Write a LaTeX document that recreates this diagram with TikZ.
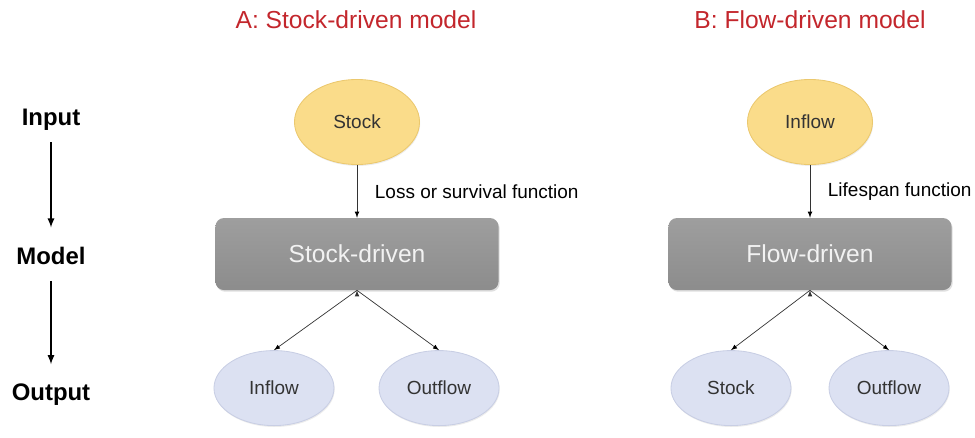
\documentclass[tikz,border=0pt]{standalone}
\usepackage{fontspec}
\setmainfont{Liberation Sans}
\usepackage{tikz}
\usetikzlibrary{positioning,arrows,shadows,shapes.geometric}

\definecolor{titlered}{HTML}{C3262C}
\definecolor{stockfill}{HTML}{FADC8A}
\definecolor{stockline}{HTML}{EBC86E}
\definecolor{outfill}{HTML}{DCE1F2}
\definecolor{outline}{HTML}{C8CEE4}

\begin{document}
\begin{tikzpicture}[x=0.025cm,y=-0.025cm,on grid,auto,
    title/.style={text=titlered,font=\fontsize{17.5}{20}\selectfont},
    level/.style={font=\bfseries\fontsize{17}{20}\selectfont,text height=12pt,text depth=3pt,inner sep=0pt},
    input/.style={ellipse,minimum width=3.125cm,minimum height=2.125cm,inner sep=0pt,
        fill=stockfill,draw=stockline,line width=0.6pt,text=black!80,font=\fontsize{13.5}{16}\selectfont,
        drop shadow={shadow xshift=0.5pt,shadow yshift=-1pt,opacity=0.15}},
    output/.style={ellipse,minimum width=3cm,minimum height=1.875cm,inner sep=0pt,
        fill=outfill,draw=outline,line width=0.6pt,text=black!80,font=\fontsize{13.5}{16}\selectfont,
        drop shadow={shadow xshift=0.5pt,shadow yshift=-1pt,opacity=0.15}},
    model/.style={rectangle,rounded corners=6pt,minimum width=7.075cm,minimum height=1.8cm,
        top color=black!38,bottom color=black!45,text=black!5,font=\fontsize{17.5}{20}\selectfont,
        drop shadow={shadow xshift=0.8pt,shadow yshift=-1.2pt,opacity=0.25}},
    link/.style={-latex,draw=black!80,line width=0.5pt},
    levellink/.style={-latex,line width=1.2pt},
    fnlabel/.style={font=\fontsize{13.5}{16}\selectfont,inner sep=0pt,xshift=12.5pt}]
    \useasboundingbox (0,0) rectangle (975,437);

    % titles
    \node[title] (titleA) at (356,20) {A: Stock-driven model};
    \node[title] (titleB) at (810,20) {B: Flow-driven model};

    % levels on the left
    \node[level] (lvlin) at (51,119) {Input};
    \node[level] (lvlmodel) at (51,258) {Model};
    \node[level] (lvlout) at (51,394) {Output};
    \draw[levellink,shorten <=9pt,shorten >=14pt] (lvlin) -- (lvlmodel);
    \draw[levellink,shorten <=8.5pt,shorten >=13.5pt] (lvlmodel) -- (lvlout);

    % A: stock-driven
    \node[input] (stockA) at (357,122) {Stock};
    \node[model] (modelA) [below=3.3cm of stockA] {Stock-driven};
    \node[output] (inflowA) [below left=3.35cm and 2.075cm of modelA] {Inflow};
    \node[output] (outflowA) [below right=3.35cm and 2.05cm of modelA] {Outflow};
    \path[link]
        (stockA) edge node[fnlabel] {Loss or survival function} (modelA)
        (modelA.south) edge (inflowA.north)
        (modelA.south) edge (outflowA.north);

    % B: flow-driven
    \node[input] (inflowB) at (810,122) {Inflow};
    \node[model] (modelB) [below=3.3cm of inflowB] {Flow-driven};
    \node[output] (stockB) [below left=3.35cm and 1.975cm of modelB] {Stock};
    \node[output] (outflowB) [below right=3.35cm and 1.975cm of modelB] {Outflow};
    \path[link]
        (inflowB) edge node[fnlabel] {Lifespan function} (modelB)
        (modelB.south) edge (stockB.north)
        (modelB.south) edge (outflowB.north);
\end{tikzpicture}
\end{document}
